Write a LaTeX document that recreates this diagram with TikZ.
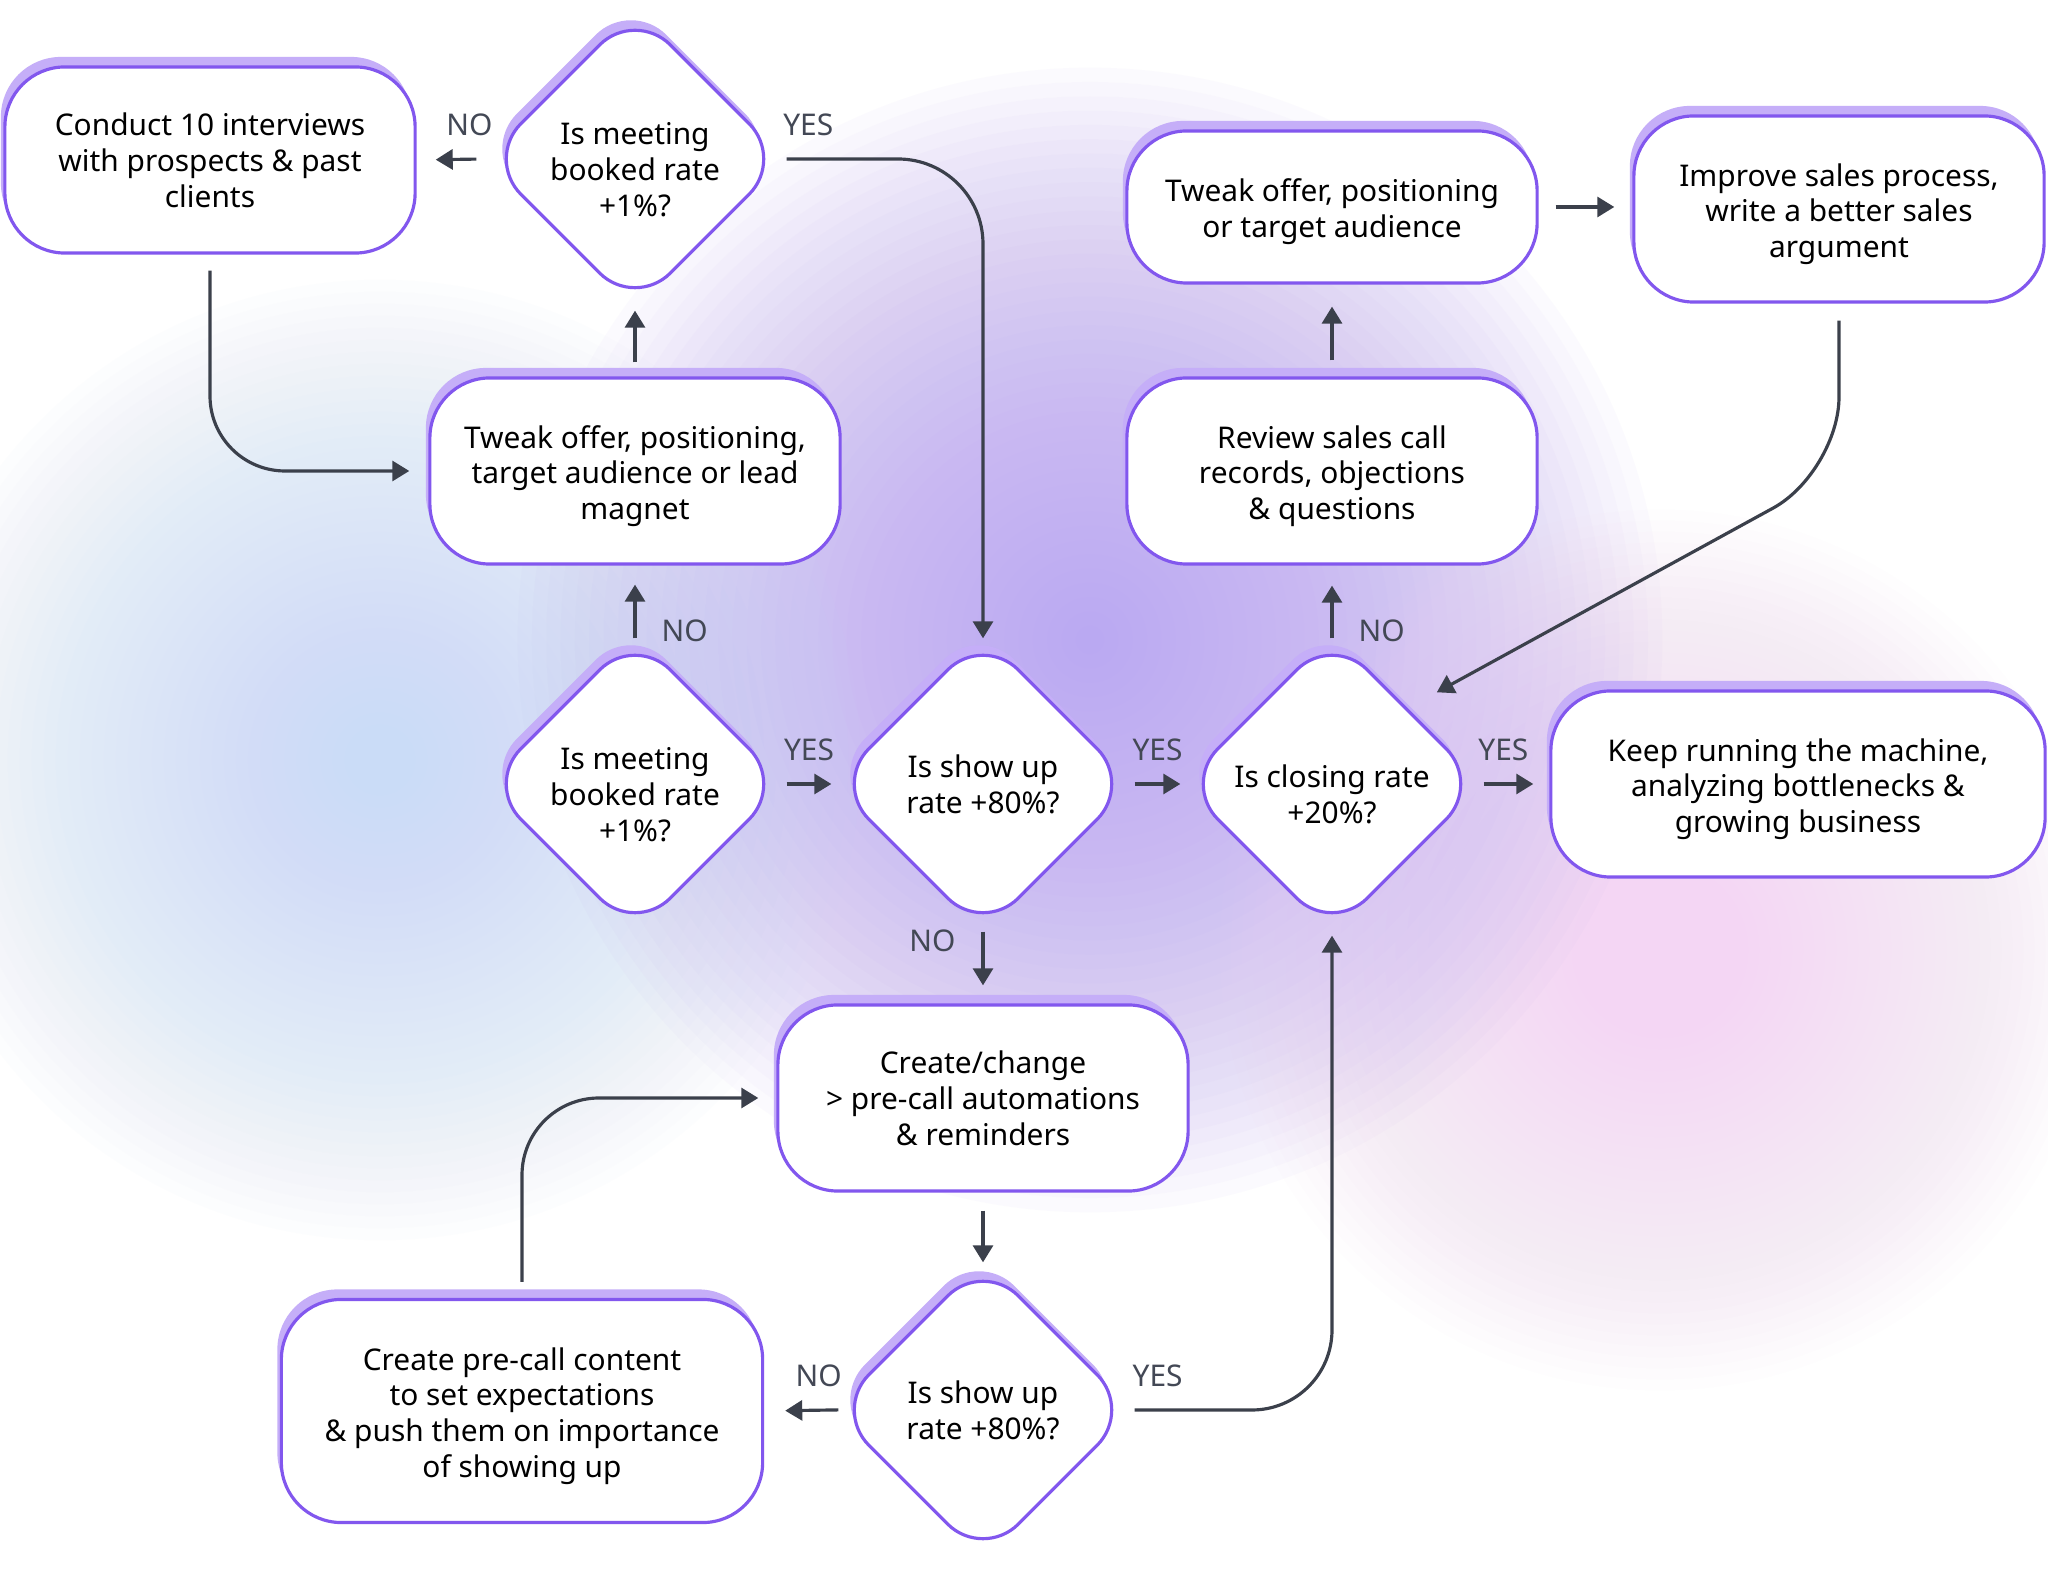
\documentclass[tikz,border=0pt]{standalone}
\usepackage{fontspec}
\setmainfont{Noto Sans}
\usetikzlibrary{shapes.geometric, arrows.meta, shadows}

\definecolor{boxline}{HTML}{8257EE}
\definecolor{boxshade}{HTML}{C5AEF8}
\definecolor{arrowgray}{HTML}{3B404B}
\definecolor{answergray}{HTML}{434855}
\definecolor{glowblue}{HTML}{CADCF7}
\definecolor{glowviolet}{HTML}{B8A1F2}
\definecolor{glowpink}{HTML}{F4D6F4}

% push the text of a node a little lower
\newcommand{\lowtext}{\rule{0pt}{0.43cm}}
\newcommand{\boxtext}{\rule{0pt}{0.33cm}}

\tikzset{
  boxshadow/.style={copy shadow={shadow xshift=-0.04cm, shadow yshift=0.10cm, fill=boxshade, draw=none}},
  stepbox/.style={boxshadow, draw=boxline, line width=0.9pt, fill=white, rounded corners=0.6cm,
    minimum width=4.1cm, minimum height=1.86cm, inner sep=0pt, align=center,
    font=\fontsize{8.5pt}{10.2pt}\selectfont},
  question/.style={boxshadow, diamond, aspect=1, draw=boxline, line width=0.9pt, fill=white,
    rounded corners=0.5cm, minimum width=3cm, minimum height=3cm, inner sep=0pt, align=center,
    font=\fontsize{8.5pt}{10.2pt}\selectfont},
  flow/.style={draw=arrowgray, line width=0.9pt, -{Triangle[length=0.17cm, width=0.2cm]}},
  answer/.style={text=answergray, inner sep=0pt, font=\fontsize{8.5pt}{10pt}\selectfont}
}

\begin{document}
\begin{tikzpicture}[x=0.01cm, y=-0.01cm]
\useasboundingbox (0,0) rectangle (2048,1574);
\fill[white] (0,0) rectangle (2048,1574);
% soft background glow
\foreach \k in {1,...,40} {
  \fill[glowviolet, opacity=0.042] (1090,640) circle [radius=\k*0.143cm];
  \fill[glowblue, opacity=0.038] (380,760) circle [radius=\k*0.12cm];
  \fill[glowpink, opacity=0.038] (1660,950) circle [radius=\k*0.11cm];
}

% steps and questions
\node[stepbox] (interviews) at (210,160) {Conduct 10 interviews\\with prospects \& past\\clients};
\node[question] (bookedtop) at (635,159) {\lowtext Is meeting\\booked rate\\+1\%?};
\node[stepbox] (tweaklead) at (635,471) {\boxtext Tweak offer, positioning,\\target audience or lead\\magnet};
\node[question] (booked) at (635,784) {\lowtext Is meeting\\booked rate\\+1\%?};
\node[question] (showup) at (983,784) {Is show up\\rate +80\%?};
\node[question] (closing) at (1332,784) {\lowtext Is closing rate\\+20\%?};
\node[stepbox, minimum width=4.94cm] (machine) at (1798,784) {\boxtext Keep running the machine,\\analyzing bottlenecks \&\\growing business};
\node[stepbox] (review) at (1332,471) {\boxtext Review sales call\\records, objections\\\& questions};
\node[stepbox, minimum height=1.52cm] (tweakoffer) at (1332,207) {\boxtext Tweak offer, positioning\\or target audience};
\node[stepbox] (salesprocess) at (1839,209) {\boxtext Improve sales process,\\write a better sales\\argument};
\node[stepbox] (automations) at (983,1098) {Create/change\\> pre-call automations\\\& reminders};
\node[question] (showuplast) at (983,1410) {Is show up\\rate +80\%?};
\node[stepbox, minimum width=4.81cm, minimum height=2.23cm] (content) at (522,1411) {\boxtext Create pre-call content\\to set expectations\\\& push them on importance\\of showing up};

% connectors
\draw[flow, shorten <=0.07cm, shorten >=0.19cm] (bookedtop.west) -- node[answer, pos=0.21, above=0.22cm] (notop) {NO} (interviews.east);
\draw[flow, rounded corners=0.85cm, shorten >=-0.06cm] (bookedtop.east) -| node[answer, pos=0.055, above=0.22cm] (yestop) {YES} (showup.north);
\draw[flow, rounded corners=0.75cm, shorten <=0.16cm, shorten >=0.19cm] (interviews.south) |- (tweaklead.west);
\draw[flow, shorten <=0.14cm] (tweaklead.north) -- (bookedtop.south);
\draw[flow, shorten <=-0.06cm, shorten >=0.19cm] (booked.north) -- node[answer, pos=0.03, right=0.25cm] (nobooked) {NO} (tweaklead.south);
\draw[flow] (booked.east) -- node[answer, midway, above=0.22cm] (yesbooked) {YES} (showup.west);
\draw[flow] (showup.east) -- node[answer, midway, above=0.22cm] (yesshow) {YES} (closing.west);
\draw[flow, shorten >=0.16cm] (closing.east) -- node[answer, pos=0.3, above=0.22cm] (yesclosing) {YES} (machine.west);
\draw[flow, shorten <=-0.06cm, shorten >=0.2cm] (closing.north) -- node[answer, pos=0.03, right=0.25cm] (noclosing) {NO} (review.south);
\draw[flow, shorten <=0.16cm, shorten >=0.22cm] (review.north) -- (tweakoffer.south);
\draw[flow, shorten <=0.17cm, shorten >=0.18cm] (tweakoffer.east) -- (tweakoffer.east -| salesprocess.west);
\coordinate (salesbend) at (1839,472);
\draw[flow, rounded corners=0.75cm, shorten <=0.17cm, shorten >=0.33cm] (salesprocess.south) -- (salesbend) -- (closing.north east);
\draw[flow, shorten <=-0.04cm, shorten >=0.18cm] (showup.south) -- node[answer, pos=0.08, left=0.26cm] (noshow) {NO} (automations.north);
\draw[flow, shorten <=0.18cm, shorten >=-0.04cm] (automations.south) -- (showuplast.north);
\draw[flow, shorten <=-0.07cm, shorten >=0.21cm] (showuplast.west) -- node[answer, pos=0.19, above=0.22cm] (nolast) {NO} (content.east);
\draw[flow, rounded corners=0.8cm] (showuplast.east) -| node[answer, pos=0.058, above=0.22cm] (yeslast) {YES} (closing.south);
\draw[flow, rounded corners=0.77cm, shorten <=0.16cm, shorten >=0.18cm] (content.north) |- (automations.west);
\end{tikzpicture}
\end{document}
